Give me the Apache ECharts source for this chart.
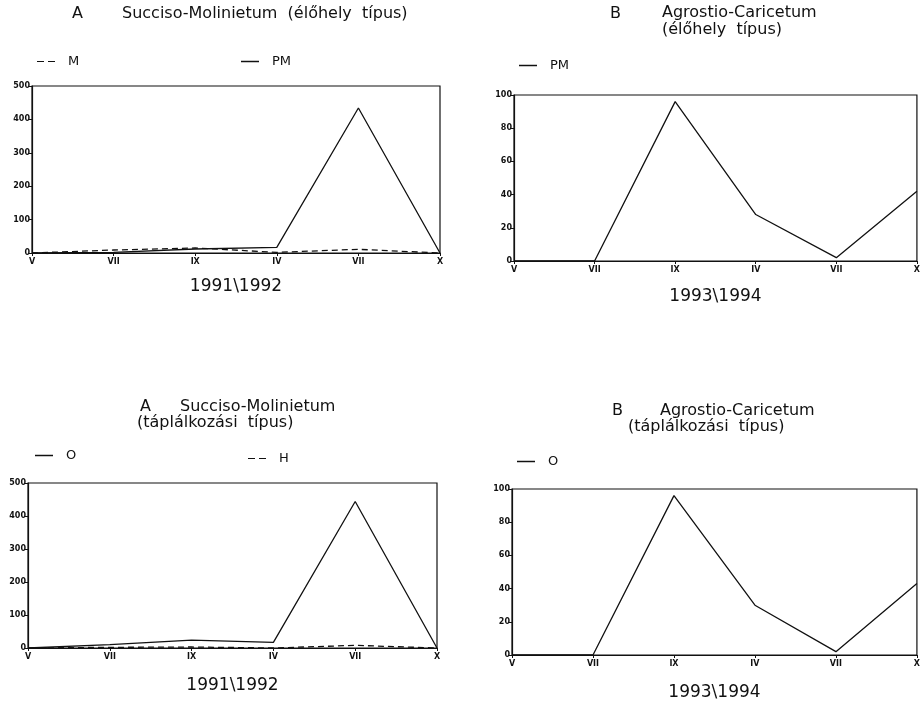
<!DOCTYPE html>
<html>
<head>
<meta charset="utf-8">
<script src="https://cdn.jsdelivr.net/npm/echarts@6/dist/echarts.min.js"></script>
<style>
  html, body { margin: 0; padding: 0; background: #fff; }
  #main { width: 923px; height: 702px; }
</style>
</head>
<body>
<div id="main"></div>
<script>
// months of the sampling, two seasons per panel
var months = ['V', 'VII', 'IX', 'IV', 'VII', 'X'];

// A - Succiso-Molinietum (élőhely típus), 1991\1992
var mA = [0, 9, 15, 2, 11, 0];
var pmA = [0, 2, 12, 17, 434, 0];
// B - Agrostio-Caricetum (élőhely típus), 1993\1994
var pmB = [0, 0, 96, 28, 2, 42];
// A - Succiso-Molinietum (táplálkozási típus), 1991\1992
var oA = [0, 10, 24, 17, 444, 0];
var hA = [0, 2, 3, 0, 8, 0];
// B - Agrostio-Caricetum (táplálkozási típus), 1993\1994
var oB = [0, 0, 96, 30, 2, 43];

var font = 'DejaVu Sans';
var ink = '#111';
var dashIcon = 'path://M0,0 L7,0 L7,1 L0,1 Z M11,0 L18,0 L18,1 L11,1 Z';
var solidIcon = 'rect';

var chart = echarts.init(document.getElementById('main'));

var grids = [
    {left: 32, right: 483, top: 86, bottom: 449},
    {left: 514, right: 1, top: 95, bottom: 441},
    {left: 28, right: 486, top: 483, bottom: 54},
    {left: 512, right: 6, top: 489, bottom: 46}
].map(g => Object.assign({show: true, borderColor: ink, borderWidth: 1.2}, g));

var xAxis = (i, name, gap) => ({
    type: 'category',
    gridIndex: i,
    data: months,
    boundaryGap: false,
    name: name,
    nameLocation: 'middle',
    nameGap: gap,
    nameTextStyle: {fontFamily: font, fontSize: 17, color: ink},
    axisLine: {lineStyle: {color: ink, width: 1.2}},
    axisTick: {alignWithLabel: true, length: 3, lineStyle: {color: ink}},
    axisLabel: {fontFamily: font, fontSize: 8, fontWeight: 'bold', color: ink, margin: 5, interval: 0}
});

var yAxis = (i, max, step) => ({
    type: 'value',
    gridIndex: i,
    min: 0,
    max: max,
    interval: step,
    splitLine: {show: false},
    axisLine: {show: true, lineStyle: {color: ink, width: 1.2}},
    axisTick: {show: true, length: 3, lineStyle: {color: ink}},
    axisLabel: {fontFamily: font, fontSize: 8, fontWeight: 'bold', color: ink, margin: 2}
});

var line = (name, i, data, dashed) => ({
    name: name,
    type: 'line',
    xAxisIndex: i,
    yAxisIndex: i,
    data: data,
    symbol: 'none',
    animation: false,
    lineStyle: {color: ink, width: 1.3, type: dashed ? [6, 4] : 'solid'},
    itemStyle: {color: ink}
});

var legend = (name, icon, left, top) => ({
    data: [{name: name, icon: icon}],
    left: left,
    top: top,
    itemWidth: 18,
    itemHeight: 1.5,
    selectedMode: false,
    itemStyle: {color: ink, borderWidth: 0},
    textStyle: {fontFamily: font, fontSize: 13, color: ink, padding: [0, 0, 0, 8]}
});

var title = (text, left, top) => ({
    text: text,
    left: left,
    top: top,
    padding: 0,
    textStyle: {fontFamily: font, fontSize: 16, fontWeight: 'normal', color: ink}
});

var option = {
    backgroundColor: '#fff',
    animation: false,
    title: [
        title('A', 72, 6),
        title('Succiso-Molinietum  (élőhely  típus)', 122, 6),
        title('B', 610, 6),
        title('Agrostio-Caricetum', 662, 5),
        title('(élőhely  típus)', 662, 22),
        title('A', 140, 399),
        title('Succiso-Molinietum', 180, 399),
        title('(táplálkozási  típus)', 137, 415),
        title('B', 612, 403),
        title('Agrostio-Caricetum', 660, 403),
        title('(táplálkozási  típus)', 628, 419)
    ],
    legend: [
        legend('M', dashIcon, 32, 50),
        legend('PM', solidIcon, 236, 50),
        legend('PM', solidIcon, 514, 54),
        legend('O', solidIcon, 30, 444),
        legend('H', dashIcon, 243, 447),
        legend('O', solidIcon, 512, 450)
    ],
    grid: grids,
    xAxis: [
        xAxis(0, '1991\\1992', 25),
        xAxis(1, '1993\\1994', 27),
        xAxis(2, '1991\\1992', 29),
        xAxis(3, '1993\\1994', 29)
    ],
    yAxis: [
        yAxis(0, 500, 100),
        yAxis(1, 100, 20),
        yAxis(2, 500, 100),
        yAxis(3, 100, 20)
    ],
    series: [
        line('M', 0, mA, true),
        line('PM', 0, pmA, false),
        line('PM', 1, pmB, false),
        line('O', 2, oA, false),
        line('H', 2, hA, true),
        line('O', 3, oB, false)
    ]
};

chart.setOption(option);
</script>
</body>
</html>
